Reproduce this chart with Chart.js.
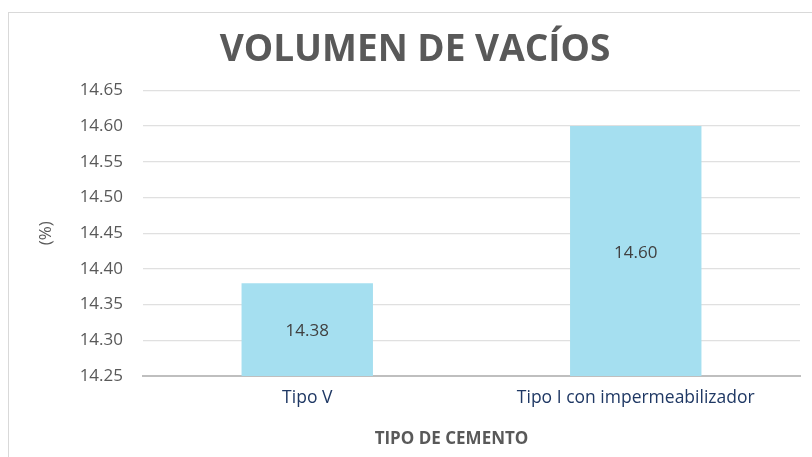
<!DOCTYPE html>
<html>
<head>
<meta charset="utf-8">
<script src="https://cdn.jsdelivr.net/npm/chart.js@4"></script>
<style>
html,body{margin:0;padding:0;background:#fff;width:812px;height:457px;overflow:hidden;}
#frame{position:absolute;left:8px;top:12px;width:900px;height:600px;border:1.5px solid #d9d9d9;box-sizing:border-box;}
#wrap{position:absolute;left:0;top:0;width:812px;height:457px;}
</style>
</head>
<body>
<div id="frame"></div>
<div id="wrap"><canvas id="c" width="812" height="457"></canvas></div>
<script>
const categories = ["Tipo V", "Tipo I con impermeabilizador"];
const values = [14.38, 14.60];
const yTicks = [14.25, 14.30, 14.35, 14.40, 14.45, 14.50, 14.55, 14.60, 14.65];
const chartTitle = "VOLUMEN DE VACÍOS";
const xTitle = "TIPO DE CEMENTO";
const yTitle = "(%)";

const labelPlugin = {
  id: 'labels',
  afterDraw(chart) {
    const ctx = chart.ctx;
    const meta = chart.getDatasetMeta(0);
    const ys = chart.scales.y;
    const ca = chart.chartArea;
    ctx.save();
    ctx.font = '17px "Open Sans"';
    ctx.fillStyle = '#404040';
    ctx.textAlign = 'center';
    ctx.textBaseline = 'middle';
    meta.data.forEach((bar, i) => {
      const top = ys.getPixelForValue(values[i]);
      const mid = (top + ys.bottom) / 2 + 2;
      ctx.fillText(values[i].toFixed(2), bar.x, mid);
    });
    // x axis title
    ctx.font = 'bold 17px "Open Sans"';
    ctx.fillStyle = '#595959';
    ctx.fillText(xTitle, (ca.left + ca.right) / 2 - 20, 439);
    // y axis title
    ctx.translate(46, (ca.top + ca.bottom) / 2);
    ctx.rotate(-Math.PI / 2);
    ctx.font = '17px "Open Sans"';
    ctx.fillText(yTitle, 0, 0);
    ctx.restore();
  }
};

new Chart(document.getElementById('c'), {
  type: 'bar',
  data: {
    labels: categories,
    datasets: [{
      data: values,
      backgroundColor: '#A5DFF0',
      borderWidth: 0,
      categoryPercentage: 1.0,
      barPercentage: 0.4
    }]
  },
  plugins: [labelPlugin],
  options: {
    responsive: false,
    animation: false,
    layout: { padding: { left: 30, right: 12, top: 0, bottom: 0 } },
    plugins: {
      legend: { display: false },
      tooltip: { enabled: false },
      title: {
        display: true,
        text: chartTitle,
        color: '#595959',
        font: { family: 'Open Sans', size: 37, weight: 'bold' },
        padding: { top: 28, bottom: 18 }
      }
    },
    scales: {
      x: {
        grid: { display: false, drawTicks: false },
        border: { display: true, color: '#BFBFBF', width: 2 },
        ticks: {
          color: '#1F3864',
          font: { family: 'Open Sans', size: 17.5 },
          padding: 12
        },
        afterFit(scale) { scale.height = 81; }
      },
      y: {
        min: 14.25,
        max: 14.65,
        grid: { color: '#E0E0E0', lineWidth: 1.3, drawTicks: false },
        border: { display: false },
        ticks: {
          stepSize: 0.05,
          color: '#595959',
          font: { family: 'Open Sans', size: 17 },
          padding: 20,
          callback: (v) => Number(v).toFixed(2)
        },
        afterBuildTicks(scale) { scale.ticks = yTicks.map(v => ({ value: v })); },
        afterFit(scale) { scale.width = 113; }
      }
    }
  }
});
</script>
</body>
</html>
